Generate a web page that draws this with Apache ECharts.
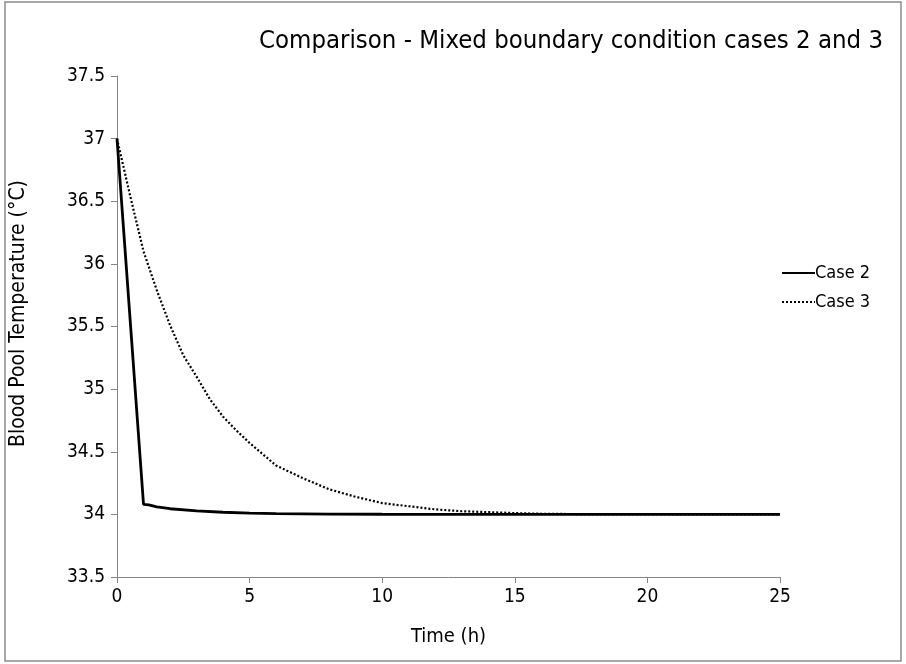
<!DOCTYPE html>
<html>
<head>
<meta charset="utf-8">
<script src="https://cdn.jsdelivr.net/npm/echarts@6/dist/echarts.min.js"></script>
<style>
html,body{margin:0;padding:0;background:#fff;}
#chart{width:906px;height:664px;}
</style>
</head>
<body>
<div id="chart"></div>
<script>
// Time (h) and Blood Pool Temperature (°C)
var case2Time = [0, 1, 1.2, 1.5, 2, 3, 4, 5, 6, 8, 10, 15, 20, 25];
var case2Temp = [37, 34.08, 34.075, 34.06, 34.045, 34.028, 34.017, 34.01, 34.006, 34.002, 34.001, 34.0, 34.0, 34.0];

var case3Time = [0, 0.5, 1, 1.06, 1.5, 2, 2.5, 3, 3.5, 4, 4.5, 5, 6, 7, 8, 9, 10, 11, 12, 13, 14, 15, 16, 17, 18, 20, 25];
var case3Temp = [37, 36.54, 36.1, 36.09, 35.79, 35.51, 35.27, 35.1, 34.92, 34.78, 34.67, 34.57, 34.39, 34.29, 34.2, 34.14, 34.09, 34.065, 34.04, 34.025, 34.018, 34.01, 34.005, 34.003, 34.002, 34.001, 34.0];

var xTicks = [0, 5, 10, 15, 20, 25];
var yTicks = [33.5, 34, 34.5, 35, 35.5, 36, 36.5, 37, 37.5];

function pairs(xs, ys) { return xs.map(function (x, i) { return [x, ys[i]]; }); }

var font = "'Liberation Sans Narrow', 'DejaVu Sans Condensed', 'Liberation Sans', sans-serif";
var chart = echarts.init(document.getElementById('chart'));
chart.setOption({
  backgroundColor: '#fff',
  animation: false,
  textStyle: { fontFamily: font },
  title: {
    text: 'Comparison - Mixed boundary condition cases 2 and 3',
    left: 566, top: 23, textAlign: 'center',
    textStyle: { fontFamily: font, fontSize: 25.5, fontWeight: 'normal', color: '#000' }
  },
  graphic: [{
    type: 'rect', shape: { x: 5, y: 2, width: 896, height: 659 },
    style: { fill: 'none', stroke: '#8c8c8c', lineWidth: 1.5 }, silent: true
  }],
  legend: {
    orient: 'vertical', left: 776, top: 259, itemGap: 11,
    itemWidth: 33, itemHeight: 16,
    itemStyle: { opacity: 0 },
    textStyle: { fontFamily: font, fontSize: 18, color: '#000', padding: [0, 0, 0, -5] },
    data: ['Case 2', 'Case 3']
  },
  grid: { left: 116, right: 126, top: 76, bottom: 87, containLabel: false },
  xAxis: {
    type: 'value', min: 0, max: 25, interval: 5,
    name: 'Time (h)', nameLocation: 'middle', nameGap: 50,
    nameTextStyle: { fontFamily: font, fontSize: 20, color: '#000' },
    axisLine: { lineStyle: { color: '#868686', width: 1 } },
    axisTick: { show: true, length: 6, lineStyle: { color: '#868686' } },
    axisLabel: { fontFamily: font, fontSize: 19, color: '#000', margin: 11,
      formatter: function (v) { return xTicks.indexOf(v) >= 0 ? String(v) : ''; } },
    splitLine: { show: false }
  },
  yAxis: {
    type: 'value', min: 33.5, max: 37.5, interval: 0.5,
    name: 'Blood Pool Temperature (\u00B0C)', nameLocation: 'middle', nameGap: 88,
    nameTextStyle: { fontFamily: font, fontSize: 21, color: '#000', padding: [0, 0, 0, 26] },
    axisLine: { show: true, lineStyle: { color: '#868686', width: 1 } },
    axisTick: { show: true, length: 6, lineStyle: { color: '#868686' } },
    axisLabel: { fontFamily: font, fontSize: 19, color: '#000', margin: 12,
      formatter: function (v) { return yTicks.indexOf(v) >= 0 ? String(v) : ''; } },
    splitLine: { show: false }
  },
  series: [
    {
      name: 'Case 2', type: 'line', symbol: 'none', smooth: false,
      data: pairs(case2Time, case2Temp),
      lineStyle: { color: '#000', width: 2.8, type: 'solid' },
      itemStyle: { color: '#000' }
    },
    {
      name: 'Case 3', type: 'line', symbol: 'none', smooth: false,
      data: pairs(case3Time, case3Temp),
      lineStyle: { color: '#000', width: 2.2, type: [2, 2] },
      itemStyle: { color: '#000' }
    }
  ]
});
</script>
</body>
</html>
